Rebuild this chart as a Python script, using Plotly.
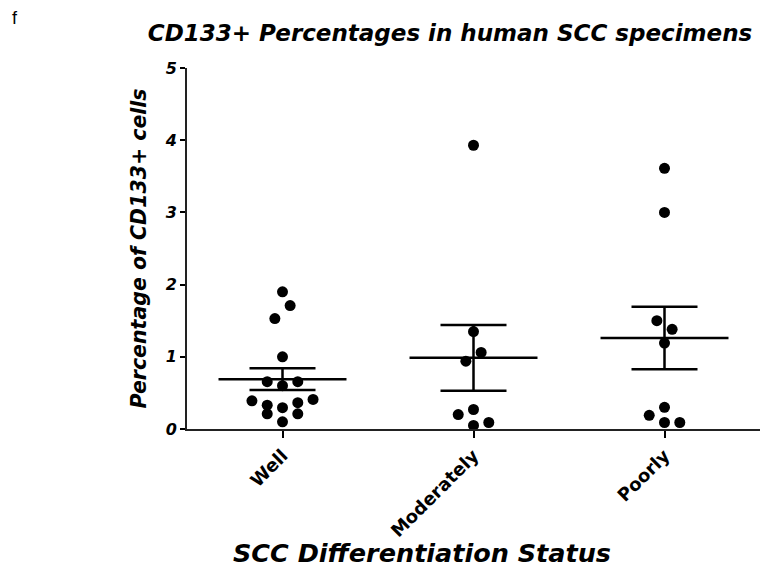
import numpy as np
import plotly.graph_objects as go

categories = ["Well", "Moderately", "Poorly"]
well = [1.90, 1.71, 1.53, 1.00, 0.655, 0.60, 0.655, 0.39, 0.41, 0.33, 0.295, 0.365, 0.21, 0.21, 0.10]
moderately = [3.93, 1.35, 1.06, 0.94, 0.27, 0.20, 0.09, 0.05]
poorly = [3.61, 3.00, 1.50, 1.38, 1.19, 0.30, 0.19, 0.09, 0.09]
groups = [well, moderately, poorly]
y_ticks = [0, 1, 2, 3, 4, 5]

# beeswarm slot offsets (in dot widths)
swarm_slots = [
    [0, 0.5, -0.5, 0, -1, 0, 1, -2, 2, -1, 0, 1, -1, 1, 0],
    [0, 0, 0.5, -0.5, 0, -1, 1, 0],
    [0, 0, -0.5, 0.5, 0, 0, -1, 0, 1],
]
SLOT = 0.08
MEAN_HALF = 0.335
CAP_PX = 33

FONT = "DejaVu Sans"
fig = go.Figure()

for i, vals in enumerate(groups):
    v = np.array(vals)
    mean = v.mean()
    sem = v.std(ddof=1) / np.sqrt(len(v))
    xs = [i + s * SLOT for s in swarm_slots[i]]
    fig.add_trace(go.Scatter(x=xs, y=vals, mode="markers",
                             marker=dict(color="black", size=11),
                             showlegend=False, hoverinfo="y"))
    fig.add_trace(go.Scatter(x=[i - MEAN_HALF, i + MEAN_HALF], y=[mean, mean],
                             mode="lines", line=dict(color="black", width=2.5),
                             showlegend=False, hoverinfo="skip"))
    fig.add_trace(go.Scatter(x=[i], y=[mean], mode="markers",
                             marker=dict(size=1, color="rgba(0,0,0,0)"),
                             error_y=dict(type="data", array=[sem], visible=True,
                                          color="black", thickness=2.5, width=CAP_PX),
                             showlegend=False, hoverinfo="skip"))

fig.update_layout(
    width=765, height=572,
    margin=dict(l=187, r=5, t=68, b=143, autoexpand=False),
    paper_bgcolor="white", plot_bgcolor="white",
    font=dict(family=FONT, color="black"),
    title=dict(text="<b><i>CD133+ Percentages in human SCC specimens</i></b>",
               font=dict(family=FONT, size=23, color="black"),
               x=450 / 765, xanchor="center", y=1 - 33 / 572, yanchor="middle"),
    xaxis=dict(range=[-0.5, 2.5], tickmode="array", tickvals=[0, 1, 2],
               ticktext=["<b>%s</b>" % c for c in categories],
               tickangle=-45, ticks="outside", ticklen=7, tickwidth=2,
               tickcolor="black", showline=True, linecolor="#222", linewidth=2,
               showgrid=False, zeroline=False, automargin=False,
               tickfont=dict(family=FONT, size=18, color="black")),
    yaxis=dict(range=[0, 5], tickmode="array", tickvals=y_ticks,
               ticktext=["<b><i>%d</i></b>" % t for t in y_ticks],
               ticks="outside", ticklen=5, tickwidth=1.5, tickcolor="black",
               showline=True, linecolor="#222", linewidth=2,
               showgrid=False, zeroline=False, automargin=False,
               tickfont=dict(family=FONT, size=16, color="black"),
               title=dict(text="<b><i>Percentage of CD133+ cells</i></b>",
                          font=dict(family=FONT, size=20.5, color="black"),
                          standoff=12)),
    annotations=[
        dict(text="<b><i>SCC Differentiation Status</i></b>", xref="paper", yref="paper",
             x=(422 - 187) / 573, y=(429 - 553) / 361, xanchor="center", yanchor="middle",
             showarrow=False, font=dict(family=FONT, size=25.5, color="black")),
        dict(text="f", xref="paper", yref="paper", x=-172 / 573, y=1 + 50 / 361,
             xanchor="center", yanchor="middle", showarrow=False,
             font=dict(family="Liberation Sans", size=18, color="black")),
    ],
)

fig.write_html("out.html", config={"displayModeBar": False},
               post_script="document.body.style.margin='0';")
